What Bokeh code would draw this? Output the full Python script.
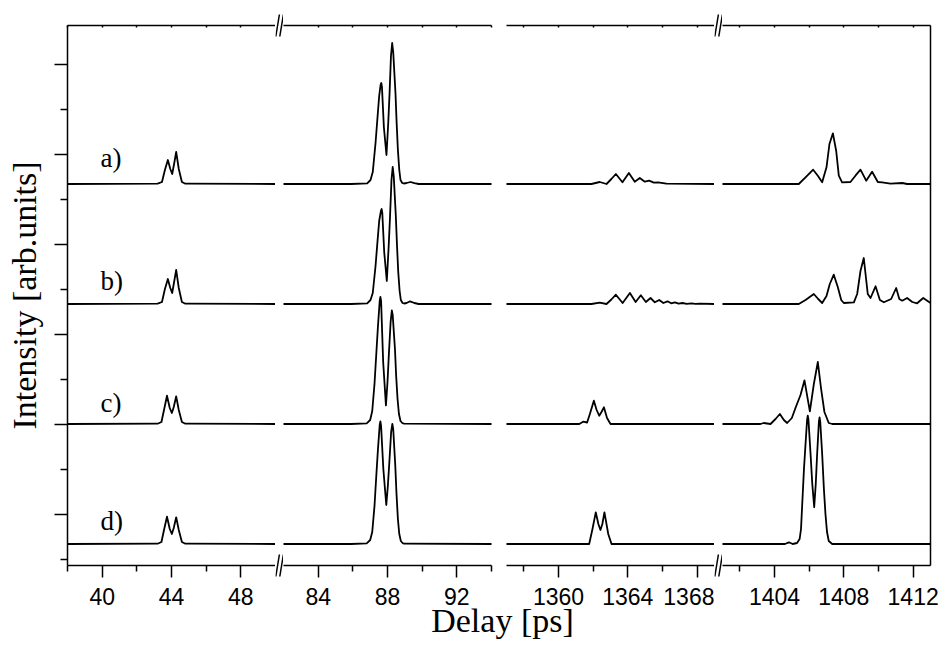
from bokeh.plotting import figure
from bokeh.layouts import row, column
from bokeh.models import Range1d, FixedTicker, LinearAxis, Label, ColumnDataSource
from bokeh.transform import dodge
from bokeh.embed import file_html
from bokeh.resources import INLINE
from bokeh.core.properties import value

# ---------------- data ----------------
segment_ranges = [(38, 50), (82, 94), (1357, 1369), (1401, 1413)]
x_major_ticks = [[40, 44, 48], [84, 88, 92], [1360, 1364, 1368], [1404, 1408, 1412]]
x_minor_ticks = [[38, 42, 46], [86, 90, 94], [1358, 1362, 1366], [1402, 1406, 1410]]
y_major_ticks = [30, 120, 210, 300, 390, 480]
y_minor_ticks = [-15, 75, 165, 255, 345, 435]
trace_labels = ["a)", "b)", "c)", "d)"]
trace_offsets = [360, 240, 120, 0]

a_x = [38, 43.2, 43.45, 43.62, 43.79, 43.93, 44.04, 44.15, 44.27, 44.42, 44.6, 44.8, 50,
       82, 85.9, 86.83, 87.02, 87.15, 87.31, 87.42, 87.52, 87.6, 87.64, 87.68, 87.79, 87.94, 88.04, 88.12, 88.2,
       88.27, 88.33, 88.46, 88.53, 88.6, 88.68, 88.75, 88.85, 88.94, 89.1, 89.33, 89.55, 89.8, 94,
       1357, 1361.9, 1362.38, 1362.77, 1363.05, 1363.31, 1363.69, 1364.06, 1364.4, 1364.69, 1364.98, 1365.23, 1365.5, 1365.74, 1366.23, 1369,
       1401, 1405.4, 1405.79, 1406.23, 1406.5, 1406.75, 1407.0, 1407.17, 1407.37, 1407.56, 1407.71, 1407.9, 1408.38, 1408.67, 1408.96,
       1409.29, 1409.63, 1409.96, 1410.21, 1410.69, 1411.37, 1411.65, 1413]
a_y = [0, 0.3, 2, 14, 24, 15, 10, 20, 32, 15, 2, 0.3, 0,
       0, 0, 0.7, 4, 12, 41, 66, 88, 99, 101, 97, 57, 29, 60, 91, 128,
       141, 132, 91, 60, 34, 14, 4, 1, 0.5, 1, 2, 0.8, 0, 0,
       0, 0, 2, 0, 5, 10, 1.7, 11, 2.3, 6, 2.3, 3.3, 1.3, 1.7, 0.3, 0,
       0, 0, 6.7, 14.3, 8.3, 1.7, 16.7, 40, 50.7, 33, 8.3, 1.7, 2, 8.3, 14.3,
       3.3, 12.3, 2, 1.7, 0.3, 1, 0, 0]

b_x = [38, 43.2, 43.45, 43.62, 43.79, 43.93, 44.04, 44.15, 44.27, 44.42, 44.6, 44.8, 50,
       82, 85.9, 86.83, 87.02, 87.15, 87.31, 87.42, 87.52, 87.62, 87.66, 87.7, 87.81, 87.96, 88.06, 88.14, 88.23,
       88.3, 88.36, 88.48, 88.55, 88.62, 88.7, 88.77, 88.87, 88.96, 89.1, 89.3, 89.55, 89.8, 94,
       1357, 1361.9, 1362.38, 1362.77, 1363.05, 1363.31, 1363.7, 1364.12, 1364.45, 1364.75, 1365.04, 1365.31, 1365.56, 1365.81,
       1366.05, 1366.29, 1366.5, 1366.71, 1366.93, 1367.15, 1367.4, 1367.67, 1367.9, 1368.15, 1369,
       1401, 1405.4, 1405.79, 1406.27, 1406.52, 1406.75, 1407.0, 1407.19, 1407.42, 1407.65, 1407.85, 1408.0, 1408.58, 1408.77,
       1408.96, 1409.15, 1409.38, 1409.54, 1409.83, 1410.08, 1410.31, 1410.73, 1411.02, 1411.2, 1411.37, 1411.65, 1411.95,
       1412.23, 1412.58, 1413]
b_y = [0, 0.3, 2, 15, 25, 16, 11, 22, 34, 16, 2, 0.3, 0,
       0, 0, 0.7, 4, 11, 38, 62, 83, 93, 95, 91, 52, 23, 55, 85, 124,
       137, 128, 88, 58, 32, 13, 4, 1, 0.5, 1, 2.7, 1, 0, 0,
       0, 0, 1.3, 0, 4.5, 9.3, 1, 11, 2, 8.7, 2, 6, 1.7, 4,
       1, 2.7, 0.7, 1.7, 0.3, 1, 0.2, 0.7, 0.2, 0.3, 0,
       0, 0, 4, 10, 5, 1, 8, 20, 29.3, 17, 4, 1, 1.7, 10,
       33, 46, 10, 6, 17.7, 4, 1.7, 5, 16, 5, 3.3, 6, 2,
       0.7, 6, 1]

c_x = [38, 43.2, 43.42, 43.58, 43.74, 43.9, 44.02, 44.13, 44.27, 44.42, 44.6, 44.8, 50,
       82, 85.9, 86.8, 87.0, 87.12, 87.25, 87.36, 87.45, 87.55, 87.59, 87.63, 87.75, 87.91, 88.0, 88.08, 88.18,
       88.25, 88.3, 88.43, 88.5, 88.58, 88.66, 88.75, 88.85, 88.95, 94,
       1357, 1361.2, 1361.42, 1361.65, 1361.81, 1362.04, 1362.2, 1362.35, 1362.48, 1362.62, 1362.8, 1363.0, 1369,
       1401, 1403.19, 1403.38, 1403.77, 1404.06, 1404.31, 1404.54, 1404.73, 1405.0, 1405.21, 1405.5, 1405.73, 1406.04,
       1406.27, 1406.5, 1406.69, 1406.88, 1407.13, 1407.33, 1413]
c_y = [0, 0.3, 2, 15, 28.3, 16, 11, 17, 27.7, 14, 2, 0.3, 0,
       0, 0, 0.7, 4, 13, 40, 72, 98, 123, 127, 123, 62, 18.6, 42, 70, 102,
       113.5, 109, 75, 48, 25, 10, 3, 1, 0.3, 0,
       0, 0, 2.3, 1.5, 10, 23.3, 14, 8.3, 12, 16.7, 6, 0, 0,
       0, 0, 1, 0, 5, 10, 4, 1, 6, 16, 29, 43.7, 12.7,
       40, 62, 35, 12, 1, 0, 0]

d_x = [38, 43.2, 43.42, 43.58, 43.74, 43.9, 44.02, 44.13, 44.27, 44.42, 44.6, 44.8, 50,
       82, 85.9, 86.8, 87.0, 87.12, 87.25, 87.36, 87.45, 87.55, 87.59, 87.63, 87.76, 87.93, 88.02, 88.1, 88.21,
       88.28, 88.33, 88.45, 88.52, 88.6, 88.68, 88.77, 88.87, 88.95, 94,
       1357, 1361.77, 1361.96, 1362.15, 1362.3, 1362.42, 1362.53, 1362.65, 1362.87, 1363.06, 1369,
       1401, 1404.6, 1404.83, 1405.05, 1405.3, 1405.45, 1405.53, 1405.6, 1405.7, 1405.79, 1405.88, 1405.92, 1405.96,
       1406.08, 1406.18, 1406.29, 1406.38, 1406.46, 1406.56, 1406.6, 1406.64, 1406.75, 1406.85, 1406.94, 1407.03,
       1407.13, 1407.33, 1413]
d_y = [0, 0.3, 2, 15, 27.3, 15, 10, 16, 26.7, 14, 2, 0.3, 0,
       0, 0, 0.7, 4, 12, 38, 70, 95, 119, 122.6, 118, 75, 39, 58, 80, 112,
       120, 115, 78, 50, 25, 10, 3, 1, 0.3, 0,
       0, 0, 15, 31.7, 20, 14, 20, 31.7, 10, 0, 0,
       0, 0, 1.7, 0, 1, 5, 15, 40, 75, 100, 124, 128.3, 124,
       90, 60, 36.7, 60, 90, 122, 126.7, 122, 90, 55, 30, 12,
       3, 0, 0]

traces_x = [a_x, b_x, c_x, d_x]
traces_y = [a_y, b_y, c_y, d_y]

# ---------------- layout / style ----------------
FRAME_W, FRAME_H = 208, 540
TOP, BOTTOM = 25, 50
Y_RANGE = (-21.5, 518.5)
borders = [(67, 0), (0, 8), (7, 0), (0, 12)]
TICK_FONT = "Liberation Sans"
SERIF = "Liberation Serif"
LINE_W = 1.8


def style_axis(ax):
    ax.axis_line_color = "black"
    ax.axis_line_width = 1.5
    ax.major_tick_line_color = "black"
    ax.minor_tick_line_color = "black"
    ax.major_tick_line_width = 1.5
    ax.minor_tick_line_width = 1.5
    ax.major_label_text_color = "black"
    ax.axis_label_text_color = "black"


def blank_labels(ticks):
    return {t: "" for t in ticks}


def make_segment(i):
    x0, x1 = segment_ranges[i]
    bl, br = borders[i]
    p = figure(x_range=Range1d(x0, x1), y_range=Range1d(*Y_RANGE),
               frame_width=FRAME_W, frame_height=FRAME_H,
               min_border_left=bl, min_border_right=br, min_border_top=TOP, min_border_bottom=BOTTOM,
               x_axis_location=None, y_axis_location=None, title=None,
               output_backend="svg", toolbar_location=None)
    p.outline_line_color = None
    p.grid.visible = False
    ppu = FRAME_W / (x1 - x0)

    bx = LinearAxis(ticker=FixedTicker(ticks=x_major_ticks[i], minor_ticks=x_minor_ticks[i]))
    style_axis(bx)
    bx.major_tick_out = 12
    bx.major_tick_in = 0
    bx.minor_tick_out = 6
    bx.minor_tick_in = 0
    bx.major_label_text_font = TICK_FONT
    bx.major_label_text_font_size = "23px"
    bx.major_label_standoff = 10
    p.add_layout(bx, "below")

    tx = LinearAxis(ticker=FixedTicker(ticks=x_major_ticks[i], minor_ticks=x_minor_ticks[i]),
                    major_label_overrides=blank_labels(x_major_ticks[i]))
    style_axis(tx)
    tx.major_tick_out = 0
    tx.major_tick_in = 2
    tx.minor_tick_out = 0
    tx.minor_tick_in = 2
    tx.major_label_standoff = 0
    p.add_layout(tx, "above")

    for k in range(4):
        src = ColumnDataSource(dict(x=traces_x[k], y=traces_y[k]))
        p.line(x="x", y=dodge("y", trace_offsets[k]), source=src,
               line_color="black", line_width=LINE_W, line_join="round")

    if i == 0:
        yax = LinearAxis(ticker=FixedTicker(ticks=y_major_ticks, minor_ticks=y_minor_ticks),
                         major_label_overrides=blank_labels(y_major_ticks))
        style_axis(yax)
        yax.major_tick_out = 13
        yax.major_tick_in = 0
        yax.minor_tick_out = 7
        yax.minor_tick_in = 0
        yax.major_label_standoff = 0
        yax.axis_label = "Intensity [arb.units]"
        yax.axis_label_text_font = SERIF
        yax.axis_label_text_font_size = "34px"
        yax.axis_label_text_font_style = "normal"
        yax.axis_label_standoff = 12
        p.add_layout(yax, "left")
        label_dy = [26.5, 23, 21.5, 23]
        p.text(x=[x0 + 33 / ppu] * 4,
               y=[trace_offsets[k] + label_dy[k] for k in range(4)],
               text=trace_labels, text_font=value(SERIF), text_font_size="27px",
               text_baseline="alphabetic", text_align="left", text_color="black")
    if i == 3:
        rax = LinearAxis(ticker=FixedTicker(ticks=[]))
        style_axis(rax)
        rax.major_tick_out = 0
        rax.major_tick_in = 0
        rax.minor_tick_out = 0
        rax.minor_tick_in = 0
        rax.major_label_standoff = 0
        p.add_layout(rax, "right")
    return p


def make_break(width=8):
    # small helper canvas (pixel coordinates) holding the "//" axis-break marks
    h = TOP + FRAME_H + BOTTOM
    g = figure(frame_width=width, frame_height=h, x_range=Range1d(0, width), y_range=Range1d(0, h),
               min_border_left=0, min_border_right=0, min_border_top=0, min_border_bottom=0,
               x_axis_location=None, y_axis_location=None, title=None,
               output_backend="svg", toolbar_location=None)
    if "frame_align" in g.properties():
        g.frame_align = False
    g.outline_line_color = None
    g.grid.visible = False
    y_axes = [BOTTOM, BOTTOM + FRAME_H]
    xs0, ys0, xs1, ys1 = [], [], [], []
    for yc in y_axes:
        for xl in (0.3, 4.3):
            xs0.append(xl)
            ys0.append(yc - 11)
            xs1.append(xl + 3.6)
            ys1.append(yc + 11)
    g.segment(x0=xs0, y0=ys0, x1=xs1, y1=ys1, line_color="black", line_width=1.5)
    return g


figs = [make_segment(i) for i in range(4)]
top_row = row(figs[0], make_break(), figs[1], figs[2], make_break(), figs[3], spacing=0)

LF_H = 64
lf = figure(width=942, height=LF_H, x_range=Range1d(0, 942), y_range=Range1d(0, LF_H),
            min_border=0, x_axis_location=None, y_axis_location=None, title=None,
            output_backend="svg", toolbar_location=None,
            background_fill_color=None, border_fill_color=None)
if "frame_align" in lf.properties():
    lf.frame_align = False
lf.outline_line_color = None
lf.grid.visible = False
lf.margin = (-26, 0, 0, 0)
lf.add_layout(Label(x=502, y=33, text="Delay [ps]", text_align="center", text_baseline="alphabetic",
                    text_font=SERIF, text_font_size="34px", text_color="black"))

layout = column(top_row, lf, spacing=0)
open("out.html", "w").write(file_html(layout, INLINE))
